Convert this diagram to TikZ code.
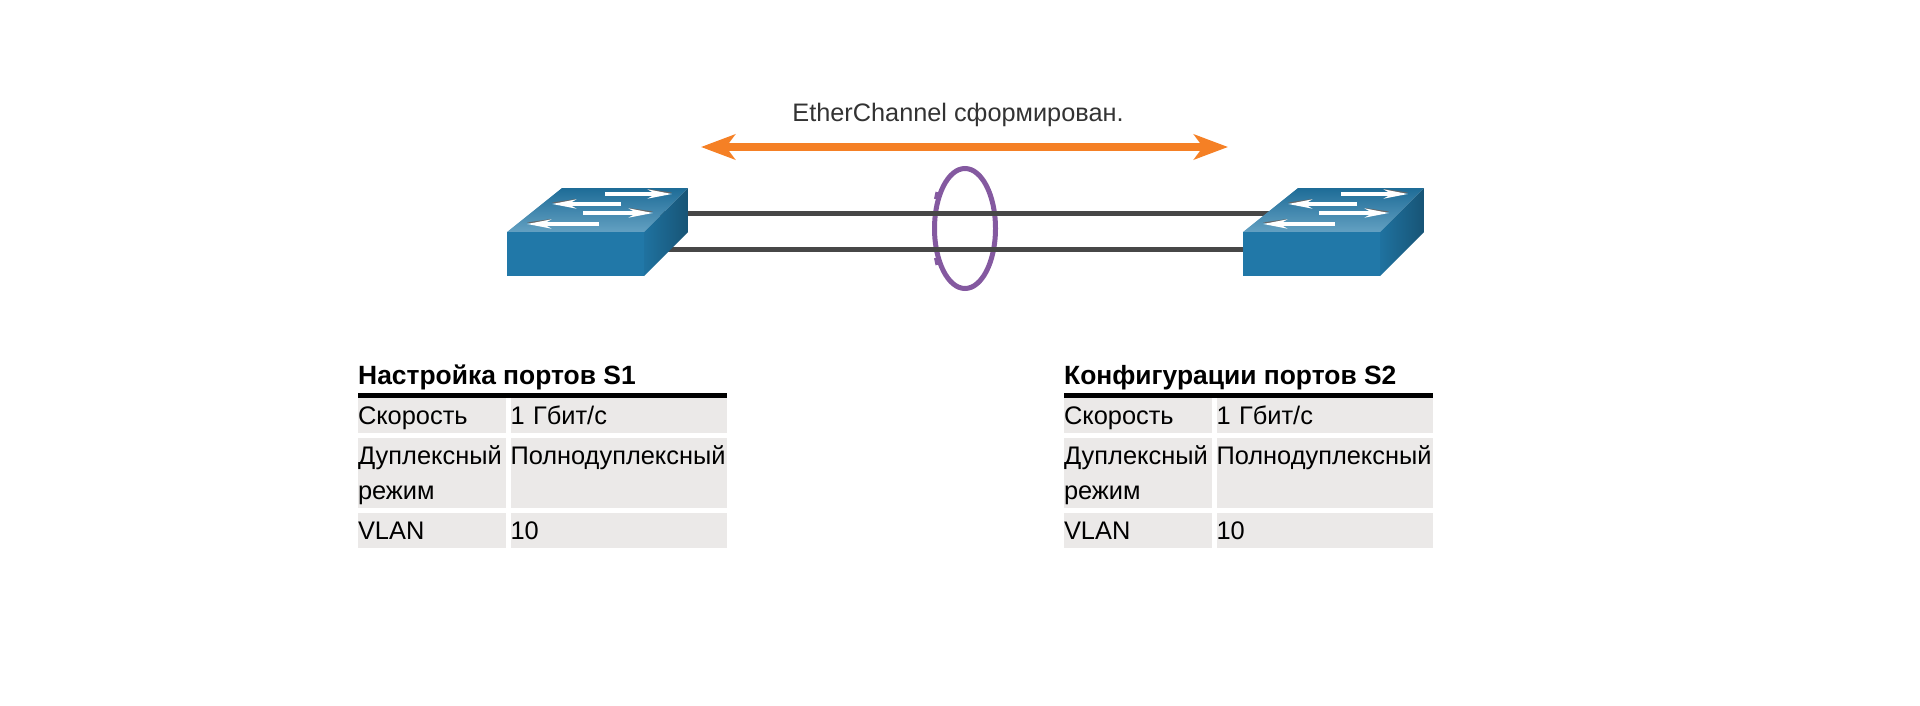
\documentclass[tikz,border=0pt]{standalone}
\usepackage{fontspec}
\setmainfont{Liberation Sans}
\usetikzlibrary{arrows.meta,backgrounds,shapes.geometric}
\definecolor{orangelink}{HTML}{F58025}
\definecolor{purplering}{HTML}{8459A0}
\definecolor{cablegray}{HTML}{474747}
\definecolor{cellgray}{HTML}{EBE9E8}
\definecolor{swfront}{HTML}{2178A8}
\tikzstyle{cell} = [rectangle, fill=cellgray, inner sep=0pt, outer sep=0pt, anchor=north west,
    text width=#1, align=left, text height=26pt, text depth=9pt,
    font=\fontsize{25.4}{35}\selectfont]
\tikzstyle{tall} = [text depth=44pt]
\tikzstyle{head} = [inner sep=0pt, anchor=base west, font=\fontsize{26.4}{29}\selectfont\bfseries]
\tikzstyle{cable} = [draw=cablegray, line width=5pt]
\newcommand{\switchicon}[3]{% name, x, y of the front top left corner
  \begin{scope}[shift={(#2,#3)}]
    \shade[top color=swfront!90!black, bottom color=swfront!70!white]
      (0,0) -- (55,-44) -- (181,-44) -- (137,0) -- cycle;
    \shade[left color=swfront!95!black, right color=swfront!70!black]
      (137,0) -- (181,-44) -- (181,0) -- (137,44) -- cycle;
    \node[fill=swfront, inner sep=0pt, outer sep=0pt, minimum width=137pt, minimum height=44pt,
      anchor=north west] (#1) at (0,0) {};
    \foreach \xa/\xb/\yy in {98/165/-38, 114/45/-28, 76/146/-19, 92/20/-8} {
      \draw[black!60, line width=2pt, -{Stealth[length=24pt,width=7pt]}] (\xa,\yy-1.5) -- (\xb,\yy-1.5);
      \draw[white, line width=3.5pt, -{Stealth[length=24pt,width=9pt]}] (\xa,\yy) -- (\xb,\yy);
    }
  \end{scope}
}
\newcommand{\porttable}[4]{% name, x, y of the rule, title
  \begin{scope}[shift={(#2,#3)}]
    \node[head] (#1title) at (0,-9) {#4};
    \draw[line width=5pt] (0,2.5) -- (369,2.5);
    \node[cell=148pt] (#1a) at (0,5) {Скорость};
    \node[cell=216pt] (#1b) at (152.5,5) {1 Гбит/с};
    \node[cell=148pt, tall] (#1c) at (0,45) {Дуплексный\\ режим};
    \node[cell=216pt, tall] (#1d) at (152.5,45) {Полнодуплексный};
    \node[cell=148pt] (#1e) at (0,120) {VLAN};
    \node[cell=216pt] (#1f) at (152.5,120) {10};
  \end{scope}
}

\begin{document}
\begin{tikzpicture}[x=1pt,y=-1pt]
  \useasboundingbox (0,0) rectangle (1920,706);

  \switchicon{s1}{507}{232}
  \switchicon{s2}{1243}{232}

  \coordinate (s1up) at (650,213);
  \coordinate (s1low) at (650,249);
  \coordinate (s2up) at (1290,213);
  \coordinate (s2low) at (1290,249);

  \begin{scope}[on background layer]
    \node[draw=purplering, line width=5pt, ellipse, inner sep=0pt, minimum width=61pt,
      minimum height=120pt] (ring) at (965,228.5) {};
    % the two small joints on the left of the ring
    \draw[purplering, line width=3pt] (937,192) -- (935.5,199);
    \draw[purplering, line width=3pt] (937,265) -- (935.5,258);
    \draw[cable] (s1up) -- (s2up);
    \draw[cable] (s1low) -- (s2low);
  \end{scope}

  \node[text=black!80, inner sep=0pt, anchor=base, font=\fontsize{25.3}{29}\selectfont] (msg) at (958,122)
    {EtherChannel сформирован.};
  \coordinate (linkl) at (701,147);
  \coordinate (linkr) at (1228,147);
  \draw[orangelink, line width=7.5pt, {Stealth[length=34pt,width=25pt,inset=9pt]}-{Stealth[length=34pt,width=25pt,inset=9pt]}]
    (linkl) -- (linkr);

  \porttable{t1}{358}{393}{Настройка портов S1}
  \porttable{t2}{1064}{393}{Конфигурации портов S2}
\end{tikzpicture}
\end{document}
